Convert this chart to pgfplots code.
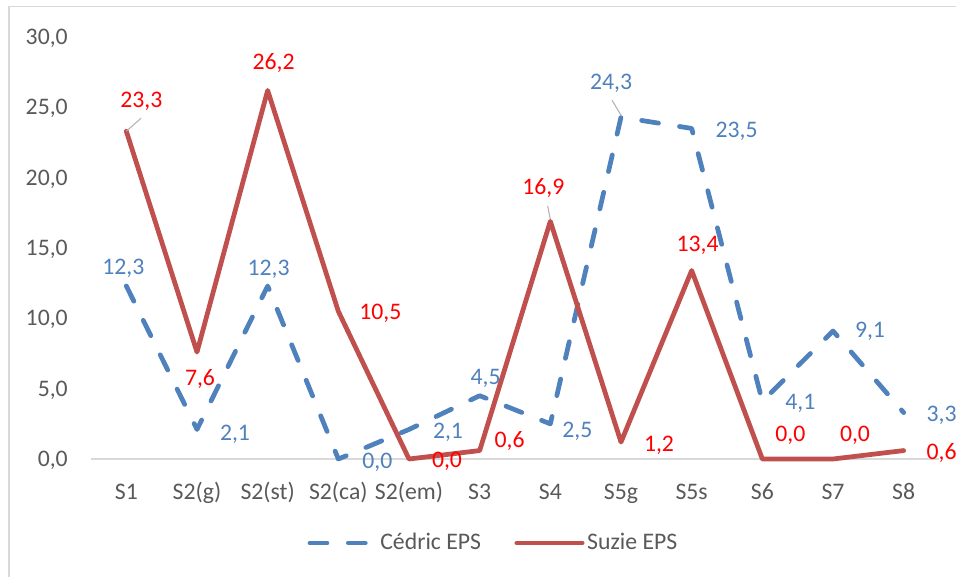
\documentclass[border=0pt]{standalone}
\usepackage{pgfplots}
\pgfplotsset{compat=1.18}
\usepackage{fontspec}
\setmainfont{Carlito}

\definecolor{cblue}{HTML}{4F81BD}
\definecolor{sred}{HTML}{C0504D}
\definecolor{lred}{HTML}{FF0000}
\definecolor{tgray}{HTML}{595959}
\definecolor{bgray}{HTML}{D9D9D9}

\begin{document}
\fontsize{17.8}{21}\selectfont
\begin{tikzpicture}
\useasboundingbox (0,0) rectangle (717pt,-432.75pt);
\draw[bgray, line width=1.1pt] (6.75pt,-440pt) -- (6.75pt,-4.9pt) -- (720pt,-4.9pt);
\begin{axis}[
  at={(68.25pt,-344.25pt)}, anchor=south west,
  scale only axis, width=636pt, height=316.5pt,
  xmin=-0.5, xmax=11.5, ymin=0, ymax=30,
  clip=false,
  axis lines=left,
  y axis line style={draw=none},
  x axis line style={draw=bgray, line width=1.1pt, -},
  major tick length=0pt,
  xtick={0,...,11},
  xticklabels={S1,S2(g),S2(st),S2(ca),S2(em),S3,S4,S5g,S5s,S6,S7,S8},
  ytick={0,5,...,30},
  yticklabel={\pgfmathprintnumber[fixed,fixed zerofill,precision=1,use comma,assume math mode=true]{\tick}},
  yticklabel style={anchor=base east, inner sep=0pt, xshift=-17.25pt, yshift=-5.6pt, text=tgray},
  xticklabel style={anchor=base, inner sep=0pt, yshift=-30pt, text=tgray},
  legend style={at={(0.475,-0.199)}, anchor=center, draw=none, legend columns=2,
    text=tgray, nodes={inner sep=2pt},
    /tikz/every even column/.append style={column sep=23pt}},
  legend image code/.code={\draw[#1] (0pt,0pt) -- (49pt,0pt);},
]
\addlegendimage{cblue, line width=3.56pt, line cap=round, dash pattern=on 12.75pt off 16pt}
\addlegendentry{Cédric EPS}
\addlegendimage{sred, line width=3.56pt, line cap=round}
\addlegendentry{Suzie EPS}

% dx/dy = label offset from the point in px (dy positive = down)
\addplot[forget plot, cblue, line width=3.56pt, line cap=round, line join=round,
  dash pattern=on 12.75pt off 16pt,
  visualization depends on={\thisrow{dx} \as \dx},
  visualization depends on={\thisrow{dy} \as \dy},
  nodes near coords={\pgfmathprintnumber[fixed,fixed zerofill,precision=1,use comma,assume math mode=true]{\pgfplotspointmeta}},
  every node near coord/.style={anchor=base, inner sep=0pt, text=cblue, solid,
    xshift=\dx*0.75pt, yshift=-(\dy+7.5)*0.75pt}]
  table[x=x, y=y] {
x y dx dy
0 12.3 -3 -19
1 2.1 38 4
2 12.3 1 -18
3 0.0 39 2
4 2.1 39 2
5 4.5 6 -19
6 2.5 27 6
7 24.3 -10 -35
8 23.5 45 2
9 4.1 38 1
10 9.1 37 -1
11 3.3 38 1
};
\addplot[forget plot, sred, line width=3.56pt, line cap=round, line join=round,
  visualization depends on={\thisrow{dx} \as \dx},
  visualization depends on={\thisrow{dy} \as \dy},
  nodes near coords={\pgfmathprintnumber[fixed,fixed zerofill,precision=1,use comma,assume math mode=true]{\pgfplotspointmeta}},
  every node near coord/.style={anchor=base, inner sep=0pt, text=lred,
    xshift=\dx*0.75pt, yshift=-(\dy+7.5)*0.75pt}]
  table[x=x, y=y] {
x y dx dy
0 23.3 15 -31
1 7.6 3 26
2 26.2 6 -28
3 10.5 42 1
4 0.0 38 1
5 0.6 30 -11
6 16.9 -7 -34
7 1.2 38 2
8 13.4 6 -27
9 0.0 28 -25
10 0.0 22 -25
11 0.6 38 1
};
% leader lines
\draw[gray!60, line width=0.8pt] (axis cs:0,23.3) -- ++(11pt,9.75pt);
\draw[gray!60, line width=0.8pt] (axis cs:7,24.3) ++(0pt,1.5pt) -- ++(-6.75pt,11.25pt);
\draw[gray!60, line width=0.8pt] (axis cs:6,16.9) ++(0pt,1.5pt) -- ++(-2pt,10pt);
\end{axis}
\end{tikzpicture}
\end{document}
